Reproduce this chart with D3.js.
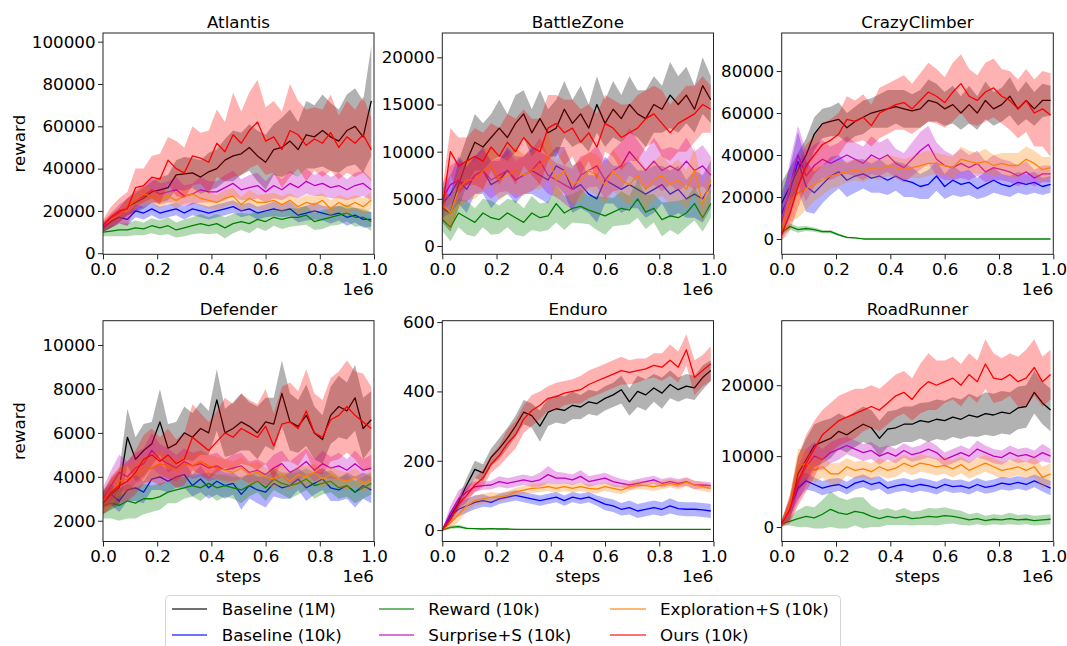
<!DOCTYPE html>
<html><head><meta charset="utf-8">
<script src="https://cdn.jsdelivr.net/npm/d3@7"></script>
<style>body{margin:0;background:#fff}svg{display:block;font-family:"DejaVu Sans",sans-serif}</style>
</head><body><svg id="c" width="1067" height="646"></svg>
<script>
const steps = [0,30000,60000,90000,120000,150000,180000,210000,240000,270000,300000,330000,360000,390000,420000,450000,480000,510000,540000,570000,600000,630000,660000,690000,720000,750000,780000,810000,840000,870000,900000,930000,960000,990000];
const seriesNames = ["Baseline (1M)","Baseline (10k)","Reward (10k)","Surprise+S (10k)","Exploration+S (10k)","Ours (10k)"];
const games = ["Atlantis","BattleZone","CrazyClimber","Defender","Enduro","RoadRunner"];
const xTicks = [0,200000,400000,600000,800000,1000000];
const yTicksAtlantis = [0,20000,40000,60000,80000,100000];
const yTicksBattleZone = [0,5000,10000,15000,20000];
const yTicksCrazyClimber = [0,20000,40000,60000,80000];
const yTicksDefender = [2000,4000,6000,8000,10000];
const yTicksEnduro = [0,200,400,600];
const yTicksRoadRunner = [0,10000,20000];

// Atlantis
const atl_b1m = [12000,15000,18000,22000,24000,26000,29000,30000,31000,37000,37500,38000,36000,38500,40000,44000,46000,47000,50000,46000,43000,49000,50000,53000,49000,56000,55000,58000,55000,53000,58000,60000,55000,72000];
const atl_b1m_sd = [2000,3000,3500,4000,4500,5000,5000,6000,6000,7000,8000,7000,8000,9000,9000,10000,12000,10000,11000,12000,13000,12000,14000,15000,13000,16000,15000,17000,16000,15000,17000,18000,17000,26000];
const atl_b10k = [12000,15000,17000,16000,20000,19000,21000,19000,20000,21000,19000,21000,20000,19000,20000,21000,22000,20000,21000,19000,20000,21000,20000,21000,18000,19000,20000,19000,18000,19000,17000,18000,16000,16000];
const atl_b10k_sd = [2000,3000,3000,3000,3000,3000,3000,3000,3000,3000,3000,3000,3000,3000,3000,3000,3000,3000,3000,3000,3000,3500,3000,3500,3500,3500,4000,3500,4000,3500,4000,3500,4000,3500];
const atl_rew = [10000,10500,11000,11000,12000,11500,13000,12000,13000,11000,12000,13000,14000,13000,14000,12000,14000,15000,14000,16000,15000,17000,16000,17000,17000,18000,15000,16000,17000,18000,19000,17000,17000,15000];
const atl_rew_sd = [2000,2500,3000,3000,3500,3000,3500,3500,4000,3500,4000,4000,4500,4000,4500,5000,4500,4000,4500,4000,4500,4000,4500,4500,4000,4500,4000,4500,4000,4500,4000,4500,4000,4500];
const atl_sur = [13000,16000,19000,22000,25000,27000,30000,28000,29000,30000,27000,28000,30000,29000,29000,31000,33000,30000,31000,32000,29000,32000,30000,33000,31000,34000,32000,33000,31000,32000,30000,32000,33000,30000];
const atl_sur_sd = [2000,3000,4000,4000,5000,5000,6000,5000,5000,6000,5000,5000,6000,5000,5000,6000,6000,5000,6000,6000,5000,6000,5000,6000,5000,6000,5000,6000,5000,6000,5000,6000,6000,5000];
const atl_exp = [13000,16000,18000,22000,25000,28000,27000,25000,27000,25000,27000,28000,26000,25000,24000,26000,27000,23000,26000,24000,24000,25000,23000,25000,22000,24000,23000,25000,21000,24000,22000,24000,22000,25000];
const atl_exp_sd = [2000,3000,3000,3500,4000,4000,3500,4000,3500,4000,3500,4000,3500,4000,3500,4000,4000,3500,4000,3500,4000,3500,4000,3500,4000,3500,4000,3500,4000,3500,4000,3500,4000,4000];
const atl_ours = [13000,17000,20000,21000,31000,32000,36000,35000,44000,40000,38000,46000,45000,43000,52000,48000,56000,52000,58000,62000,53000,55000,49000,58000,56000,51000,54000,52000,57000,50000,55000,52000,56000,49000];
const atl_ours_sd = [3000,5000,6000,8000,9000,8000,10000,12000,11000,13000,12000,14000,12000,15000,16000,14000,20000,15000,18000,20000,16000,17000,18000,22000,16000,17000,15000,16000,18000,15000,17000,16000,18000,15000];

// BattleZone
const bz_b1m = [4000,3500,6500,9000,11000,10500,11500,12500,11500,13000,14000,12000,13500,12000,12500,14500,13000,14000,12500,15000,13000,14500,13500,15000,14000,13500,15000,14500,16000,15000,16000,14500,17000,15500];
const bz_b1m_sd = [1500,2000,2500,2500,3000,2500,2500,3000,2500,3000,2500,2500,3000,2500,3000,3000,2500,3000,2500,3000,2500,3000,2500,3000,2500,3000,3000,2500,3500,3000,3000,2500,3000,2500];
const bz_b10k = [4500,5500,7000,6000,7500,8000,6500,7000,8000,7000,7500,8000,7500,7000,8500,8000,6000,6500,5500,5000,7000,6500,6000,6500,6000,5500,6000,6500,5500,6000,5000,5500,5000,6500];
const bz_b10k_sd = [1500,2000,2500,2500,2000,2500,2500,2000,2500,2500,2000,2500,2500,2500,2000,2500,2500,2500,2000,2500,2500,2000,2500,2500,2000,2500,2500,2000,2500,2500,2000,2500,2500,2500];
const bz_rew = [2800,2000,3500,3000,2500,3500,3000,2800,3500,3000,2500,3500,3000,3200,4500,3500,4000,4200,3800,3500,3200,3600,4000,3800,5000,3600,4000,2800,3200,3000,3500,4500,3000,4500];
const bz_rew_sd = [1200,1500,1500,1800,1500,1500,1800,1500,1500,1800,1500,1800,1500,1500,2000,1800,1500,1800,1500,1800,2000,1500,1800,1500,2000,1800,1500,1800,1500,1800,1500,1800,1500,1500];
const bz_sur = [5000,6500,7000,6500,7500,8000,7000,7500,8000,7000,7500,8000,9000,7500,7000,6500,6000,7500,8000,8500,7000,8000,8500,10000,9000,8000,9000,8000,8500,8000,9000,8000,8500,7500];
const bz_sur_sd = [1500,2000,2200,1800,2000,2200,2000,1800,2200,2000,2000,2200,2500,2000,1800,2000,2200,2000,1800,2200,2000,2200,2500,2500,2200,2000,2500,2200,2000,2200,2500,2000,2200,2000];
const bz_exp = [4500,3500,6000,7000,7000,8000,8500,7000,7500,8000,7500,8000,8500,9500,7000,8000,6500,7000,8000,7500,6500,8000,7000,6500,7500,6000,7000,7500,6500,7000,6000,8000,4500,7000];
const bz_exp_sd = [1500,1800,2000,2200,2000,2200,2000,2200,2000,2500,2200,2000,2500,2500,2000,2200,2000,2200,2000,2200,2000,2200,2000,2200,2000,2200,2000,2200,2000,2200,2000,2500,2000,2200];
const bz_ours = [4000,10000,8500,9000,9500,9000,10500,9500,11000,10000,11500,10500,10000,12500,13000,12000,12500,11000,12000,10500,13000,12500,11500,12000,12500,13500,14000,13000,12000,13000,13500,14000,15000,14500];
const bz_ours_sd = [2000,2500,3000,2500,3000,3000,2500,3000,3000,3500,3000,3000,3500,3500,3000,3500,3000,3500,3000,3500,3000,3000,3500,3000,3500,3000,3000,3500,3000,3000,3500,3000,3000,2500];

// CrazyClimber
const cc_b1m = [17000,25000,33000,40000,50000,55000,56000,57000,53000,56000,58000,60000,61000,62000,63000,62000,61000,62000,66000,65000,62000,64000,60000,64000,60000,66000,62000,64000,68000,62000,66000,62000,66000,66000];
const cc_b1m_sd = [10000,9000,8000,8000,8000,7000,7000,8000,7000,7000,8000,7000,8000,9000,8000,9000,8000,9000,10000,9000,8000,9000,8000,9000,8000,9000,8000,8000,9000,8000,9000,8000,8000,7000];
const cc_b10k = [12000,22000,37000,25000,22000,26000,30000,32000,28000,30000,31000,29000,30000,28000,30000,28000,27000,25000,26000,30000,25000,28000,26000,27000,24000,26000,28000,26000,25000,27000,26000,27000,25000,26000];
const cc_b10k_sd = [10000,12000,14000,12000,10000,9000,9000,8000,8000,8000,7000,7000,8000,7000,7000,8000,7000,6000,7000,7000,6000,7000,6000,6000,5000,6000,6000,5000,5000,5000,5000,5000,4000,4000];
const cc_rew = [3000,6000,4500,5000,4500,3500,3500,2000,800,500,0,0,0,0,0,0,0,0,0,0,0,0,0,0,0,0,0,0,0,0,0,0,0,0];
const cc_rew_sd = [1500,1500,1500,1200,1000,800,800,600,400,300,0,0,0,0,0,0,0,0,0,0,0,0,0,0,0,0,0,0,0,0,0,0,0,0];
const cc_sur = [8000,25000,40000,30000,35000,38000,36000,38000,40000,38000,36000,40000,38000,40000,36000,34000,38000,42000,45000,38000,35000,34000,36000,34000,36000,32000,34000,33000,32000,30000,32000,29000,31000,31000];
const cc_sur_sd = [8000,12000,14000,12000,10000,9000,8000,8000,9000,8000,8000,9000,8000,8000,7000,7000,8000,9000,9000,8000,7000,6000,7000,6000,6000,5000,6000,5000,5000,5000,5000,4000,4000,4000];
const cc_exp = [5000,18000,22000,24000,26000,28000,30000,31000,32000,33000,32000,34000,33000,35000,34000,33000,34000,35000,36000,36000,35000,34000,38000,37000,36000,37000,35000,36000,35000,35000,38000,36000,33000,34000];
const cc_exp_sd = [5000,10000,12000,10000,8000,7000,6000,6000,5000,5000,5000,5000,5000,5000,5000,5000,5000,6000,6000,5000,5000,5000,6000,5000,5000,6000,5000,5000,6000,6000,6000,6000,6000,5000];
const cc_ours = [2000,12000,25000,35000,40000,45000,47000,50000,57000,56000,58000,54000,60000,62000,64000,65000,62000,66000,70000,68000,65000,70000,74000,68000,66000,70000,72000,68000,66000,62000,66000,60000,62000,59000];
const cc_ours_sd = [3000,8000,10000,10000,9000,10000,10000,10000,11000,10000,11000,10000,12000,12000,12000,13000,12000,13000,14000,13000,12000,14000,14000,13000,12000,14000,14000,13000,14000,14000,15000,16000,18000,20000];

// Defender
const df_b1m = [2800,3200,3500,5800,4800,5200,5500,6500,5300,5500,6000,5800,6200,6000,7500,6000,6200,6500,6300,6000,6500,6400,7800,6500,6300,6800,6000,5700,6800,7200,7000,7600,6200,6600];
const df_b1m_sd = [500,700,800,1300,1000,1200,1000,1500,1100,1000,1200,1100,1200,1000,1400,1100,1200,1300,1100,1200,1100,1200,1500,1300,1200,1400,1200,1100,1300,1400,1300,1500,1400,1300];
const df_b10k = [3000,3200,2900,3400,3500,3300,3900,4000,3800,4000,4100,3600,3900,3500,3800,3600,3700,3200,3600,3400,3300,3700,3500,3600,3900,3500,3700,3900,3500,3400,3600,3300,3600,3400];
const df_b10k_sd = [400,500,500,500,600,500,500,600,500,500,600,500,600,500,600,600,500,700,600,600,700,600,500,600,500,600,500,500,600,500,600,700,600,600];
const df_rew = [2700,2800,2700,2900,2800,3000,3000,3100,3300,3400,3500,3600,3500,3700,3500,3600,3500,3400,3600,3800,3500,3900,3700,3600,3700,3900,3600,3700,3800,3500,3600,3300,3500,3700];
const df_rew_sd = [600,700,700,800,700,700,600,600,500,600,500,500,600,500,600,500,500,600,500,500,600,500,500,600,500,500,600,500,500,500,500,500,500,500];
const df_sur = [3000,3600,4200,4000,4400,4600,5200,4800,4600,4400,4700,4500,4600,4400,4500,4300,4400,4500,4200,4300,4100,4400,4600,4200,4400,4700,4300,4600,4400,4500,4300,4600,4300,4400];
const df_sur_sd = [500,700,800,700,700,700,800,700,700,600,600,600,600,600,600,500,600,600,500,500,500,600,600,500,600,600,500,600,500,600,500,600,500,600];
const df_exp = [2900,3300,3800,3900,4100,4300,4400,4600,4500,4300,4600,4500,4700,4500,4400,4300,4200,4400,4100,4200,4000,3900,4100,3800,4100,4000,4200,3900,4100,3900,3800,4000,3700,3900];
const df_exp_sd = [500,600,700,600,600,600,600,600,500,500,500,500,500,500,500,500,500,500,500,500,400,400,500,400,400,500,400,400,400,400,400,400,400,400];
const df_ours = [2800,3300,3600,3800,4200,4800,5000,4700,5000,4600,4800,5800,5500,5200,5600,6000,5800,6200,6000,5800,6300,5400,6400,6500,6200,7000,6000,5800,6600,6800,7200,6800,6500,6200];
const df_ours_sd = [500,700,800,900,1000,1100,1200,1100,1200,1100,1200,1500,1400,1300,1400,1600,1500,1600,1500,1500,1700,1500,1700,1800,1700,1900,1800,1700,1900,2000,2100,2000,2200,1900];

// Enduro
const en_b1m = [0,40,80,130,175,165,210,235,265,300,340,330,300,340,350,345,360,355,370,365,380,390,405,370,400,390,410,395,420,405,415,410,440,460];
const en_b1m_sd = [3,10,15,20,25,25,25,30,30,30,35,35,45,40,40,40,40,35,35,35,35,35,40,40,45,45,40,45,40,35,35,35,35,30];
const en_b10k = [0,40,60,70,80,85,80,90,95,100,95,90,85,90,95,85,95,90,95,85,75,70,60,65,55,60,65,60,70,62,60,60,58,55];
const en_b10k_sd = [3,15,20,20,20,18,15,15,15,15,15,15,15,15,15,15,15,15,15,15,18,18,18,20,20,20,20,20,22,20,20,20,20,20];
const en_rew = [0,8,10,5,4,3,4,3,3,2,2,2,2,2,2,2,2,2,2,2,2,2,2,2,2,2,2,2,2,2,2,2,2,2];
const en_rew_sd = [1,5,5,3,2,2,2,2,2,2,1,1,1,1,1,1,1,1,1,1,1,1,1,1,1,1,1,1,1,1,1,1,1,1];
const en_sur = [0,50,90,110,125,128,130,140,135,140,145,140,145,160,150,150,145,155,140,145,150,140,135,130,135,140,145,135,140,135,140,130,130,128];
const en_sur_sd = [3,20,25,20,15,12,12,15,15,15,15,15,20,25,18,15,15,18,15,15,15,15,12,12,12,12,12,12,12,12,12,12,10,10];
const en_exp = [0,20,45,70,85,90,95,95,100,110,115,120,122,125,120,125,120,125,120,118,125,120,115,125,130,128,125,130,135,130,138,130,125,120];
const en_exp_sd = [3,15,20,18,15,15,15,12,12,12,12,12,12,12,12,12,12,12,12,12,12,12,12,12,12,12,12,12,12,12,12,12,12,12];
const en_ours = [0,30,75,100,130,150,190,215,250,275,320,345,360,380,385,395,400,405,420,430,440,450,460,455,460,465,475,470,490,470,520,440,460,480];
const en_ours_sd = [3,10,15,20,20,25,25,30,40,40,40,45,40,35,40,35,35,40,40,40,40,40,40,35,35,30,35,40,45,45,45,50,45,50];

// RoadRunner
const rr_b1m = [500,2500,7500,9500,11500,12000,12500,13500,13000,13800,14500,14000,12500,13800,14000,14500,14500,15000,14800,15200,15000,15500,15200,15800,15500,16000,15800,16200,16000,16800,17000,19000,17500,16500];
const rr_b1m_sd = [500,1500,2500,3000,3000,3000,2800,2500,2500,2500,2500,2500,2500,2500,2500,2500,2500,2500,2800,2800,2800,2800,2800,3000,2800,3000,3000,3000,3000,3000,3000,3000,3000,3000];
const rr_b10k = [500,2500,5500,6500,6000,5500,5800,6000,5500,6200,6500,6000,6300,5500,5800,6000,5700,6000,5800,5500,6000,5700,5800,5500,6000,5600,5800,6200,6000,6300,6000,6500,6000,5500];
const rr_b10k_sd = [300,1000,1500,1200,1000,1000,1000,900,900,900,900,900,900,900,900,900,900,900,900,900,900,900,900,900,900,900,900,900,900,900,900,900,1000,1000];
const rr_rew = [500,800,1200,1500,1300,1800,2500,2000,1800,2200,2000,1500,1200,1500,1300,1500,1200,1300,1500,1400,1600,1500,1300,1000,1200,900,1100,1000,1200,1000,1100,900,1000,1100];
const rr_rew_sd = [300,600,1200,1500,1500,2000,2500,2200,2000,2000,2200,1500,1200,1200,1000,1200,1000,1000,1200,1200,1200,1000,1000,800,800,700,700,700,800,700,700,700,700,700];
const rr_sur = [500,2500,6000,8500,10000,9500,10500,11000,11500,11000,10500,10800,10000,10500,10000,10800,10200,10500,11000,10500,9500,10000,10500,10000,11000,10500,10000,9800,10500,10000,10200,9800,10500,10000];
const rr_sur_sd = [400,1500,2500,2500,2000,1500,1500,1500,1200,1200,1200,1200,1200,1000,1000,1000,1000,1000,1200,1000,1000,1000,1000,1000,1200,1000,1000,1000,1000,1000,1000,1000,1200,1000];
const rr_exp = [500,3000,8500,9000,8000,8500,7500,7500,8500,8000,8200,7800,8500,8000,8300,9000,8500,9000,8800,8500,8700,8200,8800,8000,8500,9000,8500,8000,8200,8500,8000,8500,7000,7500];
const rr_exp_sd = [400,1500,2500,2000,1800,1500,1500,1500,1200,1200,1200,1200,1200,1200,1200,1200,1200,1200,1200,1200,1200,1200,1200,1200,1200,1200,1200,1200,1200,1200,1200,1500,1500,1500];
const rr_ours = [500,2500,6500,9000,11000,13000,14000,15000,15500,16000,16500,17000,16500,17500,18500,19000,18000,19500,20500,20000,20500,21000,20000,21500,20500,23000,21000,20800,21500,20500,21000,22500,20500,21500];
const rr_ours_sd = [500,2000,3500,4000,4000,3500,3500,3500,3500,3500,3000,3000,3000,3000,3000,3000,3000,3500,4000,3500,3000,3000,3000,3000,3000,3500,3500,3000,3000,3500,4000,4000,3500,3500];

// ---- drawing ----
const colors = ["#000000","#0000ff","#008000","#bf00bf","#ff8000","#ff0000"];
const panels = [
  {means:[atl_b1m,atl_b10k,atl_rew,atl_sur,atl_exp,atl_ours], sds:[atl_b1m_sd,atl_b10k_sd,atl_rew_sd,atl_sur_sd,atl_exp_sd,atl_ours_sd], ticks:yTicksAtlantis, dom:[-500,104100]},
  {means:[bz_b1m,bz_b10k,bz_rew,bz_sur,bz_exp,bz_ours], sds:[bz_b1m_sd,bz_b10k_sd,bz_rew_sd,bz_sur_sd,bz_exp_sd,bz_ours_sd], ticks:yTicksBattleZone, dom:[-880,22580]},
  {means:[cc_b1m,cc_b10k,cc_rew,cc_sur,cc_exp,cc_ours], sds:[cc_b1m_sd,cc_b10k_sd,cc_rew_sd,cc_sur_sd,cc_exp_sd,cc_ours_sd], ticks:yTicksCrazyClimber, dom:[-7300,98130]},
  {means:[df_b1m,df_b10k,df_rew,df_sur,df_exp,df_ours], sds:[df_b1m_sd,df_b10k_sd,df_rew_sd,df_sur_sd,df_exp_sd,df_ours_sd], ticks:yTicksDefender, dom:[1054,11110]},
  {means:[en_b1m,en_b10k,en_rew,en_sur,en_exp,en_ours], sds:[en_b1m_sd,en_b10k_sd,en_rew_sd,en_sur_sd,en_exp_sd,en_ours_sd], ticks:yTicksEnduro, dom:[-33,604]},
  {means:[rr_b1m,rr_b10k,rr_rew,rr_sur,rr_exp,rr_ours], sds:[rr_b1m_sd,rr_b10k_sd,rr_rew_sd,rr_sur_sd,rr_exp_sd,rr_ours_sd], ticks:yTicksRoadRunner, dom:[-2040,29100]}
];
const colX = [[103,374],[442.3,713.5],[781.7,1053.3]];
const rowY = [[33,254.3],[320.7,541.5]];
const FS = "16.7px";
const svg = d3.select("#c");
svg.append("rect").attr("width",1067).attr("height",646).attr("fill","#fff");
const defs = svg.append("defs");

panels.forEach((p, pi) => {
  const r = Math.floor(pi/3), c = pi % 3;
  const [x0, x1] = colX[c], [y0, y1] = rowY[r];
  const x = d3.scaleLinear().domain([0, 1e6]).range([x0, x1]);
  const y = d3.scaleLinear().domain(p.dom).range([y1, y0]);
  const g = svg.append("g");
  defs.append("clipPath").attr("id","clip"+pi).append("rect")
    .attr("x",x0).attr("y",y0).attr("width",x1-x0).attr("height",y1-y0);
  const plot = g.append("g").attr("clip-path","url(#clip"+pi+")");
  const idx = d3.range(steps.length);
  p.means.forEach((m, si) => {
    const sd = p.sds[si];
    plot.append("path").datum(idx)
      .attr("d", d3.line().x(i => x(steps[i])).y(i => y(m[i])))
      .attr("fill","none").attr("stroke",colors[si]).attr("stroke-width",1.3).attr("stroke-linejoin","round");
    plot.append("path").datum(idx)
      .attr("d", d3.area().x(i => x(steps[i])).y0(i => y(m[i]-sd[i])).y1(i => y(m[i]+sd[i])))
      .attr("fill",colors[si]).attr("fill-opacity",0.3).attr("stroke","none");
  });
  g.append("rect").attr("x",x0).attr("y",y0).attr("width",x1-x0).attr("height",y1-y0)
    .attr("fill","none").attr("stroke","#222").attr("stroke-width",1);
  const ax = g.append("g").attr("transform",`translate(0,${y1})`)
    .call(d3.axisBottom(x).tickValues(xTicks).tickFormat(d => (d/1e6).toFixed(1)).tickSize(5).tickPadding(3.5));
  const ay = g.append("g").attr("transform",`translate(${x0},0)`)
    .call(d3.axisLeft(y).tickValues(p.ticks).tickFormat(d => String(d)).tickSize(5).tickPadding(2.5));
  [ax, ay].forEach(a => {
    a.select(".domain").remove();
    a.selectAll("line").attr("stroke","#222");
    a.selectAll("text").attr("font-size",FS).attr("fill","#000").attr("font-family","DejaVu Sans");
  });
  g.append("text").attr("x",(x0+x1)/2).attr("y",y0-5.5).attr("text-anchor","middle")
    .attr("font-size",FS).text(games[pi]);
  g.append("text").attr("x",x1).attr("y", r===0 ? 295 : 582).attr("text-anchor","end")
    .attr("font-size",FS).text("1e6");
  if (r === 1) {
    g.append("text").attr("x",(x0+x1)/2).attr("y",582).attr("text-anchor","middle")
      .attr("font-size",FS).text("steps");
  }
  if (c === 0) {
    g.append("text").attr("transform",`translate(25,${(y0+y1)/2}) rotate(-90)`)
      .attr("text-anchor","middle").attr("font-size",FS).text("reward");
  }
});

// legend
const lg = svg.append("g");
lg.append("rect").attr("x",165.5).attr("y",595.5).attr("width",675).attr("height",62).attr("rx",4)
  .attr("fill","#fff").attr("fill-opacity",0.8).attr("stroke","#d5d5d5");
const legCols = [[172,207,221.7],[379,414,428.3],[610,646,660]];
const legRows = [609,635];
seriesNames.forEach((n, i) => {
  const cc = Math.floor(i/2), rr = i % 2;
  const [lx0, lx1, tx] = legCols[cc];
  lg.append("line").attr("x1",lx0).attr("x2",lx1).attr("y1",legRows[rr]).attr("y2",legRows[rr])
    .attr("stroke",colors[i]).attr("stroke-width",1.5).attr("stroke-opacity",0.75);
  lg.append("text").attr("x",tx).attr("y",legRows[rr]+6).attr("font-size",FS).attr("fill","#000").text(n);
});
</script></body></html>
